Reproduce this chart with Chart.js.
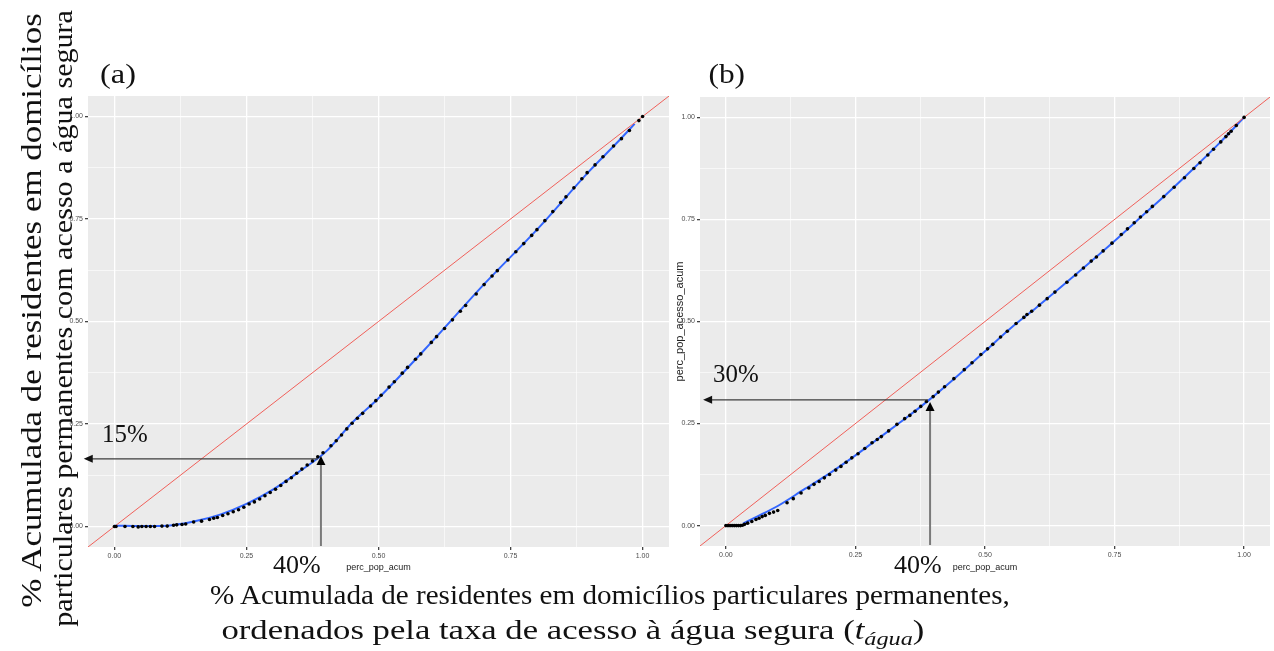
<!DOCTYPE html>
<html><head><meta charset="utf-8">
<script src="https://cdn.jsdelivr.net/npm/chart.js@4.4.1/dist/chart.umd.min.js"></script>
<style>
html,body{margin:0;padding:0;background:#fff;width:1274px;height:651px;overflow:hidden;position:relative;}
canvas{position:absolute;}
.lbl{position:absolute;white-space:nowrap;font-family:"Liberation Serif","Times New Roman",serif;color:#111;line-height:1.1;transform-origin:center center;}
</style></head><body>
<canvas id="ca" width="640" height="500" style="left:40px;top:85px"></canvas>
<canvas id="cb" width="624" height="500" style="left:650px;top:85px"></canvas>
<script>
// ---------- DATA ----------
const gridVals = [0, 0.125, 0.25, 0.375, 0.5, 0.625, 0.75, 0.875, 1];
const refLineX = [-0.05, 1.05];
const refLineY = [-0.05, 1.05];

// Panel (a) observed points
const aX = [0.000,0.003,0.020,0.035,0.045,0.052,0.060,0.068,0.076,0.090,0.100,0.112,0.118,0.128,0.135,0.150,0.165,0.180,0.188,0.195,0.205,0.215,0.225,0.235,0.245,0.255,0.265,0.275,0.285,0.295,0.305,0.315,0.325,0.335,0.345,0.355,0.365,0.375,0.385,0.395,0.410,0.420,0.430,0.440,0.450,0.460,0.470,0.485,0.495,0.505,0.520,0.530,0.545,0.555,0.570,0.580,0.600,0.610,0.625,0.640,0.655,0.665,0.685,0.700,0.715,0.725,0.745,0.760,0.775,0.790,0.800,0.815,0.830,0.845,0.855,0.870,0.885,0.895,0.910,0.925,0.945,0.960,0.975,0.993,1.000];
const aY = [0.000,0.000,0.000,0.000,-0.001,0.000,0.000,0.000,0.000,0.001,0.001,0.003,0.004,0.005,0.006,0.011,0.013,0.017,0.020,0.022,0.027,0.031,0.036,0.041,0.047,0.055,0.060,0.067,0.075,0.083,0.091,0.100,0.110,0.119,0.130,0.140,0.150,0.160,0.170,0.180,0.197,0.209,0.223,0.238,0.252,0.264,0.276,0.294,0.307,0.320,0.340,0.353,0.374,0.388,0.408,0.421,0.449,0.463,0.483,0.504,0.525,0.539,0.567,0.590,0.611,0.624,0.650,0.670,0.690,0.710,0.724,0.746,0.768,0.790,0.804,0.826,0.848,0.863,0.882,0.902,0.928,0.946,0.966,0.990,1.000];
// Panel (a) smooth fit
const aFitX = [0.000,0.050,0.100,0.150,0.200,0.250,0.300,0.350,0.400,0.450,0.500,0.600,0.700,0.800,0.900,0.950,0.985];
const aFitY = [0.002,0.001,0.002,0.012,0.029,0.055,0.090,0.134,0.182,0.253,0.313,0.449,0.591,0.724,0.868,0.934,0.982];

// Panel (b) observed points
const bX = [0.000,0.004,0.008,0.012,0.016,0.020,0.024,0.028,0.032,0.036,0.042,0.050,0.058,0.064,0.070,0.076,0.084,0.092,0.100,0.118,0.130,0.145,0.160,0.170,0.180,0.190,0.200,0.212,0.222,0.232,0.243,0.255,0.268,0.282,0.292,0.300,0.314,0.330,0.345,0.355,0.365,0.376,0.387,0.400,0.410,0.422,0.440,0.460,0.475,0.492,0.505,0.515,0.530,0.543,0.560,0.575,0.581,0.590,0.605,0.620,0.635,0.658,0.675,0.690,0.705,0.715,0.728,0.745,0.763,0.775,0.788,0.800,0.812,0.823,0.845,0.865,0.885,0.903,0.915,0.930,0.941,0.955,0.965,0.970,0.975,0.985,1.000];
const bY = [0.000,0.000,0.000,0.000,0.000,0.000,0.000,0.000,0.001,0.003,0.006,0.010,0.015,0.018,0.022,0.025,0.030,0.033,0.037,0.056,0.066,0.080,0.092,0.101,0.108,0.117,0.125,0.136,0.145,0.155,0.166,0.176,0.189,0.203,0.211,0.218,0.232,0.248,0.262,0.270,0.280,0.292,0.304,0.316,0.327,0.340,0.360,0.382,0.399,0.419,0.433,0.444,0.462,0.476,0.495,0.510,0.517,0.525,0.540,0.556,0.572,0.596,0.614,0.631,0.648,0.658,0.673,0.692,0.713,0.727,0.742,0.756,0.769,0.782,0.806,0.829,0.852,0.875,0.889,0.908,0.922,0.940,0.953,0.960,0.966,0.980,1.000];
// Panel (b) smooth fit
const bFitX = [0.033,0.060,0.100,0.150,0.200,0.250,0.300,0.350,0.400,0.450,0.500,0.550,0.600,0.650,0.700,0.750,0.800,0.850,0.900,0.950,1.000];
const bFitY = [0.005,0.022,0.048,0.088,0.128,0.172,0.219,0.266,0.316,0.370,0.427,0.484,0.535,0.588,0.642,0.697,0.755,0.812,0.872,0.934,1.000];

// Annotation arrows (data units)
const annotA = {vX:0.391, vTip:0.172, hY:0.165, hFrom:0.385, hTip:-0.058};
const annotB = {vX:0.394, vTip:0.303, hY:0.308, hFrom:0.390, hTip:-0.044};

// ---------- CHART ----------
const zip = (xs, ys) => xs.map((x, i) => ({x, y: ys[i]}));
const tickFont = {family:"'Liberation Sans Narrow','Liberation Sans',Arial,sans-serif", size:7};

const bgPlugin = {
  id:'panelBg',
  beforeDraw(chart){
    const {ctx, chartArea:a} = chart;
    ctx.save(); ctx.fillStyle = '#EBEBEB';
    ctx.fillRect(a.left, a.top, a.right - a.left, a.bottom - a.top);
    ctx.restore();
  }
};
const arrowPlugin = {
  id:'arrowAnnot',
  afterDraw(chart, args, o){
    if (!o || o.vX === undefined) return;
    const {ctx, scales:{x, y}, chartArea:a} = chart;
    ctx.save();
    const hy = y.getPixelForValue(o.hY);
    const hx0 = x.getPixelForValue(o.hFrom);
    const hx1 = x.getPixelForValue(o.hTip);
    ctx.strokeStyle = '#3c3c3c'; ctx.lineWidth = 1.4;
    ctx.beginPath(); ctx.moveTo(hx0, hy); ctx.lineTo(hx1 + 6, hy); ctx.stroke();
    ctx.fillStyle = '#111';
    ctx.beginPath(); ctx.moveTo(hx1, hy); ctx.lineTo(hx1 + 9, hy - 4); ctx.lineTo(hx1 + 9, hy + 4); ctx.closePath(); ctx.fill();
    const vx = x.getPixelForValue(o.vX);
    const vt = y.getPixelForValue(o.vTip);
    const vb = a.bottom - 1;
    ctx.strokeStyle = '#7a7a7a'; ctx.lineWidth = 2;
    ctx.beginPath(); ctx.moveTo(vx, vb); ctx.lineTo(vx, vt + 8); ctx.stroke();
    ctx.fillStyle = '#000';
    ctx.beginPath(); ctx.moveTo(vx, vt); ctx.lineTo(vx - 4.5, vt + 9); ctx.lineTo(vx + 4.5, vt + 9); ctx.closePath(); ctx.fill();
    ctx.restore();
  }
};

function axisCfg(axis, fitSize, title){
  return {
    type:'linear', min:-0.05, max:1.05,
    afterBuildTicks: s => { s.ticks = gridVals.map(v => ({value:v})); },
    afterFit: s => { if (axis === 'x') s.height = fitSize; else s.width = fitSize; },
    grid:{
      color:'#ffffff',
      lineWidth: c => (c.index % 2 === 0 ? 1.3 : 0.6),
      tickColor: c => (c.index % 2 === 0 ? '#444' : 'rgba(0,0,0,0)'),
      tickLength:3, drawTicks:true, drawOnChartArea:true
    },
    border:{display:false},
    ticks:{autoSkip:false, maxRotation:0, padding:2, color:'#4d4d4d', font:tickFont,
      callback:(v, i) => (i % 2 === 0 ? Number(v).toFixed(2) : '')},
    title: title
  };
}

function makeChart(id, pts, fit, annot, pad, yW, xH, yTitle){
  return new Chart(document.getElementById(id), {
    type:'scatter',
    data:{datasets:[
      {data:pts, pointRadius:1.8, pointBackgroundColor:'#000', pointBorderWidth:0, showLine:false},
      {data:zip(refLineX, refLineY), showLine:true, borderColor:'#F0605A', borderWidth:1, pointRadius:0},
      {data:fit, showLine:true, borderColor:'#3366FF', borderWidth:2, pointRadius:0, cubicInterpolationMode:'monotone'}
    ]},
    options:{
      responsive:false, animation:false, devicePixelRatio:1,
      layout:{padding:pad},
      plugins:{legend:{display:false}, tooltip:{enabled:false}, arrowAnnot:annot},
      scales:{
        x: axisCfg('x', xH, {display:true, text:'perc_pop_acum', color:'#222',
              font:{family:tickFont.family, size:9}, padding:{top:0, bottom:11.6}}),
        y: axisCfg('y', yW, yTitle)
      }
    },
    plugins:[bgPlugin, arrowPlugin]
  });
}

makeChart('ca', zip(aX, aY), zip(aFitX, aFitY), annotA, {top:11, right:11, left:0, bottom:0}, 48, 38, {display:false});
makeChart('cb', zip(bX, bY), zip(bFitX, bFitY), annotB, {top:12, right:0, left:0, bottom:0}, 50, 39,
  {display:true, text:'perc_pop_acesso_acum', color:'#222', font:{family:"'Liberation Sans',Arial,sans-serif", size:11}, padding:{top:23, bottom:0}});

// ---------- TEXT LABELS ----------
const labels = [
  {html:'(a)', cx:118, cy:75, size:27, len:36, rot:0},
  {html:'(b)', cx:726, cy:75, size:27, len:36, rot:0},
  {html:'15%', cx:125, cy:434, size:26, len:46, rot:0},
  {html:'30%', cx:736, cy:374, size:26, len:46, rot:0},
  {html:'40%', cx:297, cy:565, size:26, len:48, rot:0},
  {html:'40%', cx:918, cy:565, size:26, len:48, rot:0},
  {html:'% Acumulada de residentes em domicílios', cx:30, cy:310, size:30, len:595, rot:-90},
  {html:'particulares permanentes com acesso a água segura', cx:64, cy:318, size:28, len:617, rot:-90},
  {html:'% Acumulada de residentes em domicílios particulares permanentes,', cx:610, cy:595, size:28, len:800, rot:0},
  {html:'ordenados pela taxa de acesso à água segura (<i>t</i><sub style="font-size:70%;vertical-align:-0.3em"><i>água</i></sub>)', cx:573, cy:632, size:28, len:703, rot:0}
];
labels.forEach(l => {
  const d = document.createElement('div');
  d.className = 'lbl';
  d.innerHTML = l.html;
  d.style.fontSize = l.size + 'px';
  document.body.appendChild(d);
  const w = d.offsetWidth, h = d.offsetHeight;
  const s = l.len / w;
  d.style.left = (l.cx - w / 2) + 'px';
  d.style.top = (l.cy - h / 2) + 'px';
  d.style.transform = `rotate(${l.rot}deg) scaleX(${s.toFixed(3)})`;
});
</script>
</body></html>
